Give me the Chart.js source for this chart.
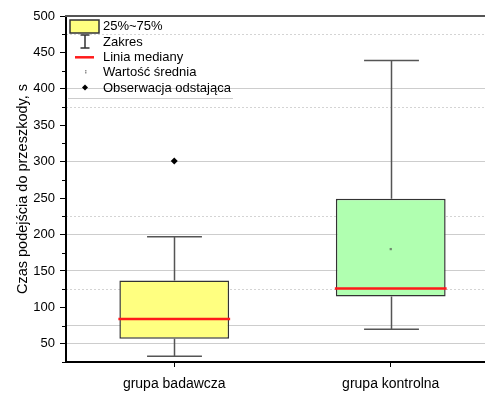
<!DOCTYPE html>
<html>
<head>
<meta charset="utf-8">
<script src="https://cdn.jsdelivr.net/npm/chart.js@4.4.0/dist/chart.umd.min.js"></script>
<style>
  html, body { margin: 0; padding: 0; background: #fff; overflow: hidden; }
  #wrap { width: 485px; height: 394px; overflow: hidden; position: relative; }
  #c { display: block; }
</style>
</head>
<body>
<div id="wrap"><canvas id="c" width="503" height="394"></canvas></div>
<script>
// Box plot statistics per group
const categories  = ['grupa badawcza', 'grupa kontrolna'];
const q1          = [57, 115];
const q3          = [137, 249];
const medians     = [84, 126];
const whiskerLow  = [33, 70];
const whiskerHigh = [197, 439];
const means       = [null, 180];
const outliers    = [301, null];
const boxColors   = ['#ffff80', '#b0ffb0'];

// Axis settings
const yMin = 25, yMax = 500, yStep = 25;
const solidGrid  = [50, 75, 150, 200, 300, 400];
const dottedGrid = [125, 225, 375, 475];
const yTitle = 'Czas podejścia do przeszkody, s';
const legendLabels = ['25%~75%', 'Zakres', 'Linia mediany', 'Wartość średnia', 'Obserwacja odstająca'];

const FONT = '"Liberation Sans", Arial, sans-serif';
Chart.defaults.font.family = FONT;
Chart.defaults.color = '#000';

// whiskers (under the boxes), medians (over), minor ticks and the legend
const boxParts = {
  id: 'boxParts',
  beforeDatasetsDraw(chart) {
    const { ctx, scales: { x, y } } = chart;
    const meta = chart.getDatasetMeta(0);
    ctx.save();
    ctx.strokeStyle = '#555';
    ctx.lineWidth = 1.5;
    categories.forEach((c, i) => {
      const cx = Math.round(x.getPixelForValue(i)) + 0.5;
      const half = meta.data[i].width / 4;
      const top = y.getPixelForValue(whiskerHigh[i]);
      const bot = y.getPixelForValue(whiskerLow[i]);
      ctx.beginPath();
      ctx.moveTo(cx, y.getPixelForValue(q3[i])); ctx.lineTo(cx, top);
      ctx.moveTo(cx - half, top); ctx.lineTo(cx + half, top);
      ctx.moveTo(cx, y.getPixelForValue(q1[i])); ctx.lineTo(cx, bot);
      ctx.moveTo(cx - half, bot); ctx.lineTo(cx + half, bot);
      ctx.stroke();
    });
    ctx.restore();
  },
  afterDatasetsDraw(chart) {
    const { ctx, scales: { y } } = chart;
    const meta = chart.getDatasetMeta(0);
    ctx.save();
    ctx.strokeStyle = '#ff1a1a';
    ctx.lineWidth = 2.5;
    categories.forEach((c, i) => {
      const bar = meta.data[i];
      const my = y.getPixelForValue(medians[i]);
      ctx.beginPath();
      ctx.moveTo(bar.x - bar.width / 2 - 1, my);
      ctx.lineTo(bar.x + bar.width / 2 + 1, my);
      ctx.stroke();
    });
    ctx.restore();
  },
  afterDraw(chart) {
    const { ctx, chartArea: a, scales: { y } } = chart;
    ctx.save();
    // minor ticks
    ctx.strokeStyle = '#000';
    ctx.lineWidth = 1;
    for (let v = yMin; v < yMax; v += 2 * yStep) {
      const py = Math.round(y.getPixelForValue(v)) + 0.5;
      ctx.beginPath();
      ctx.moveTo(a.left - 4, py);
      ctx.lineTo(a.left, py);
      ctx.stroke();
    }
    // legend
    const L = a.left, T = a.top;
    const rows = [10, 25.5, 41.3, 55.7, 71.5];
    const sx = L + 19;
    ctx.font = '13px ' + FONT;
    ctx.fillStyle = '#000';
    ctx.textBaseline = 'middle';
    ctx.textAlign = 'left';
    legendLabels.forEach((t, i) => ctx.fillText(t, L + 37, T + rows[i] + 0.5));
    // box swatch
    ctx.fillStyle = boxColors[0];
    ctx.strokeStyle = '#333';
    ctx.lineWidth = 1.5;
    ctx.fillRect(L + 4, T + 4, 29, 13);
    ctx.strokeRect(L + 4, T + 4, 29, 13);
    // range symbol
    ctx.strokeStyle = '#333';
    ctx.beginPath();
    ctx.moveTo(sx - 4.5, T + 19); ctx.lineTo(sx + 4.5, T + 19);
    ctx.moveTo(sx, T + 19); ctx.lineTo(sx, T + 32);
    ctx.moveTo(sx - 4.5, T + 32); ctx.lineTo(sx + 4.5, T + 32);
    ctx.stroke();
    // median symbol
    ctx.strokeStyle = '#ff1a1a';
    ctx.lineWidth = 2.5;
    ctx.beginPath();
    ctx.moveTo(L + 9, T + rows[2]); ctx.lineTo(L + 28, T + rows[2]);
    ctx.stroke();
    // mean symbol
    ctx.fillStyle = '#777';
    ctx.fillRect(sx, T + rows[3] - 1.5, 1.5, 1.2);
    ctx.fillRect(sx, T + rows[3] + 0.5, 1.5, 1.2);
    // outlier symbol
    ctx.fillStyle = '#000';
    ctx.beginPath();
    ctx.moveTo(sx, T + rows[4] - 3); ctx.lineTo(sx + 3, T + rows[4]);
    ctx.lineTo(sx, T + rows[4] + 3); ctx.lineTo(sx - 3, T + rows[4]);
    ctx.closePath(); ctx.fill();
    // legend frame bottom edge
    ctx.strokeStyle = '#cccccc';
    ctx.lineWidth = 1;
    ctx.beginPath();
    ctx.moveTo(L + 2, T + 82.5); ctx.lineTo(L + 167, T + 82.5);
    ctx.stroke();
    ctx.restore();
  }
};

const hiddenGridAxis = (values, color, dash) => ({
  position: 'left',
  min: yMin, max: yMax,
  afterBuildTicks(s) { s.ticks = values.map(v => ({ value: v })); },
  ticks: { display: false },
  grid: { drawTicks: false, color: color, lineWidth: 1 },
  border: { display: false, dash: dash },
  afterFit(s) { s.width = 0; }
});

new Chart(document.getElementById('c'), {
  data: {
    labels: categories,
    datasets: [
      {
        type: 'bar',
        order: 2,
        data: categories.map((c, i) => [q1[i], q3[i]]),
        backgroundColor: boxColors,
        borderColor: '#333',
        borderWidth: 1.5,
        borderSkipped: false,
        barPercentage: 0.507,
        categoryPercentage: 1,
        xAxisID: 'x', yAxisID: 'y'
      },
      {
        type: 'line',
        order: 1,
        data: outliers,
        showLine: false,
        pointStyle: 'rectRot',
        pointRadius: 3.5,
        pointBackgroundColor: '#000',
        pointBorderColor: '#000',
        pointBorderWidth: 0,
        xAxisID: 'x', yAxisID: 'y'
      },
      {
        type: 'line',
        order: 1,
        data: means,
        showLine: false,
        pointStyle: 'rect',
        pointRadius: 1.6,
        pointBackgroundColor: '#6f8a6f',
        pointBorderColor: '#6f8a6f',
        pointBorderWidth: 0,
        xAxisID: 'x', yAxisID: 'y'
      }
    ]
  },
  options: {
    responsive: false,
    animation: false,
    devicePixelRatio: 1,
    layout: { padding: { left: 0, top: 16, right: 0, bottom: 0 } },
    plugins: { legend: { display: false }, tooltip: { enabled: false } },
    scales: {
      y: {
        position: 'left',
        min: yMin, max: yMax,
        ticks: {
          stepSize: yStep,
          autoSkip: false,
          callback: v => (v % 50 === 0 ? String(v) : ''),
          color: '#000',
          font: { size: 13 },
          padding: 5
        },
        grid: {
          drawOnChartArea: false,
          tickLength: 6,
          tickColor: ctx => (ctx.tick && ctx.tick.value % 50 === 0 ? '#000' : 'rgba(0,0,0,0)')
        },
        border: { color: '#000', width: 2 },
        title: { display: true, text: yTitle, color: '#000', font: { size: 14.5 }, padding: { top: 14, bottom: 0 } },
        afterFit(s) { s.width = 66; }
      },
      ySolid: hiddenGridAxis(solidGrid, '#cdcdcd', []),
      yDot: hiddenGridAxis(dottedGrid, '#d4d4d4', [2, 2]),
      x: {
        type: 'category',
        labels: categories,
        offset: true,
        grid: { offset: false, drawOnChartArea: false, tickLength: 5, tickColor: '#000' },
        border: { color: '#000', width: 2 },
        ticks: { color: '#000', font: { size: 14 }, padding: 9 },
        afterFit(s) { s.height = 32; }
      },
      xTop: {
        type: 'category',
        position: 'top',
        labels: categories,
        offset: true,
        grid: { display: false },
        ticks: { display: false },
        border: { color: '#555', width: 2 },
        afterFit(s) { s.height = 0; }
      }
    }
  },
  plugins: [boxParts]
});
</script>
</body>
</html>
